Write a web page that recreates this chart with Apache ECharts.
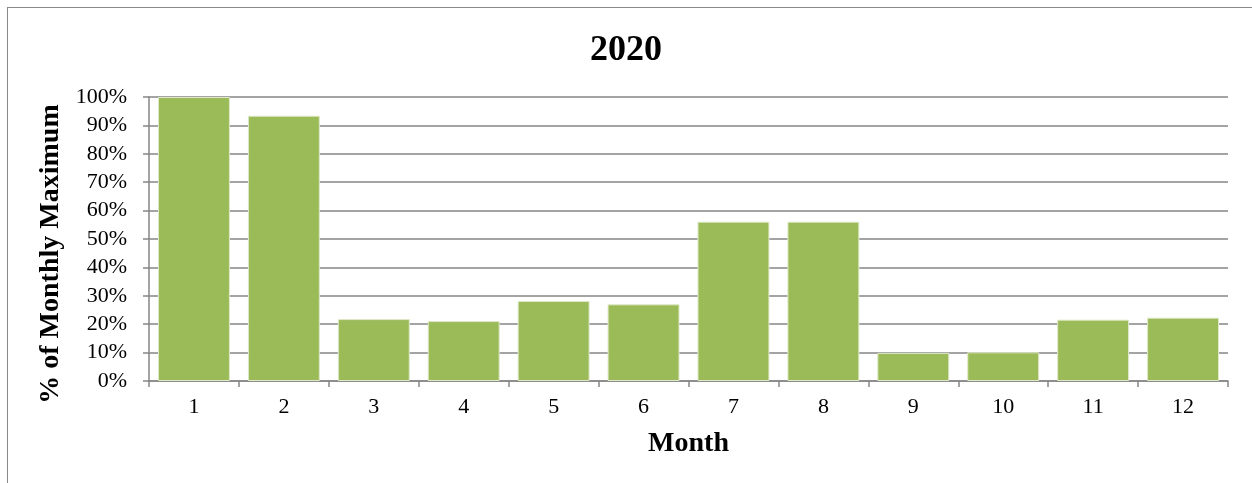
<!DOCTYPE html>
<html><head><meta charset="utf-8">
<script src="https://cdn.jsdelivr.net/npm/echarts@6/dist/echarts.min.js"></script>
<style>
html,body{margin:0;padding:0;background:#fff;}
#frame{position:absolute;left:7px;top:7px;width:1260px;height:490px;border:1px solid #888;box-sizing:border-box;}
#c{position:absolute;left:0;top:0;width:1252px;height:483px;}
</style></head>
<body>
<div id="frame"></div>
<div id="c"></div>
<script>
const months = ['1','2','3','4','5','6','7','8','9','10','11','12'];
const values = [100, 93.4, 21.8, 21.1, 28.2, 27.0, 56.1, 56.1, 9.9, 10.1, 21.6, 22.3];
const titleText = '2020';
const xName = 'Month';
const yName = '% of Monthly Maximum';

const chart = echarts.init(document.getElementById('c'), null, {renderer:'canvas'});
const serif = '"Liberation Serif","Times New Roman",serif';
chart.setOption({
  animation:false,
  title:{text:titleText,left:'center',top:28,textStyle:{fontFamily:serif,fontWeight:'bold',fontSize:36,color:'#000'}},
  grid:{left:149,right:24,top:97,bottom:102,containLabel:false},
  xAxis:{type:'category',data:months,name:xName,nameLocation:'middle',nameGap:49,
    nameTextStyle:{fontFamily:serif,fontWeight:'bold',fontSize:28,color:'#000'},
    axisLine:{lineStyle:{color:'#868686',width:1.5}},
    axisTick:{show:true,length:6,lineStyle:{color:'#868686',width:1.5}},
    axisLabel:{fontFamily:serif,fontSize:22,color:'#000',margin:15},
    boundaryGap:true},
  yAxis:{type:'value',min:0,max:100,interval:10,name:yName,nameLocation:'middle',nameGap:80,
    nameTextStyle:{fontFamily:serif,fontWeight:'bold',fontSize:28,color:'#000',padding:[0,30,0,0]},
    axisLine:{show:true,lineStyle:{color:'#868686',width:1.5}},
    axisTick:{show:true,length:6,lineStyle:{color:'#868686',width:1.5}},
    axisLabel:{fontFamily:serif,fontSize:22,color:'#000',margin:22,formatter:v=>v+'%'},
    splitLine:{lineStyle:{color:'#868686',width:1.5}}},
  series:[{type:'bar',data:values,barCategoryGap:'20%',
    itemStyle:{color:'#9BBB59',borderColor:'#dfe9c8',borderWidth:1}}]
});
</script>
</body></html>
